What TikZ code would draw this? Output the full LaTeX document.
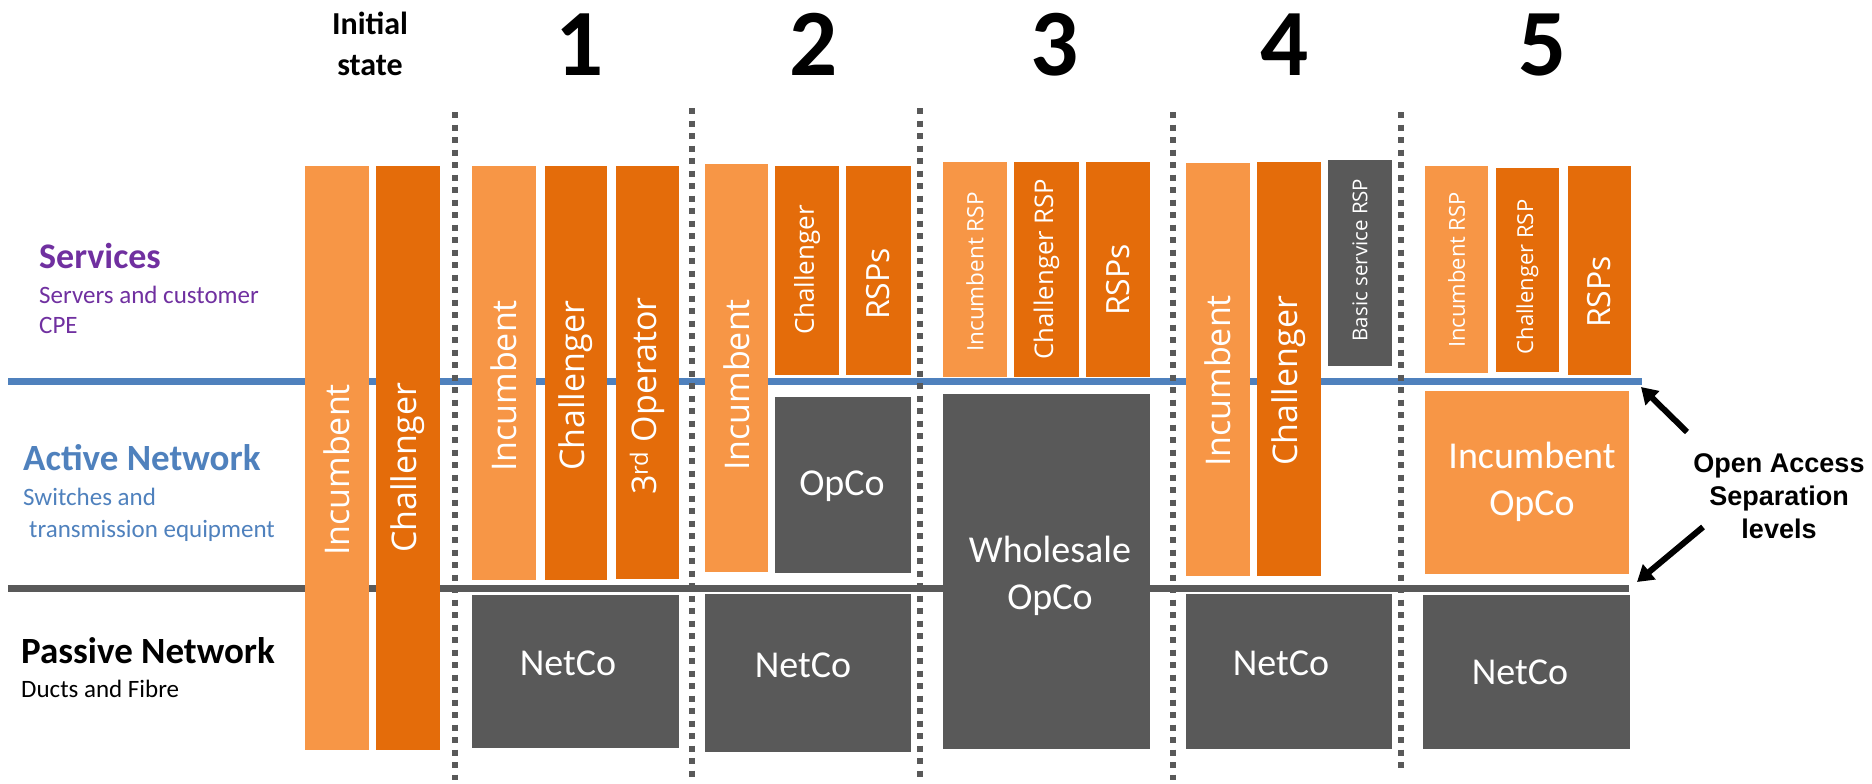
\documentclass[tikz,border=0pt]{standalone}
\usepackage{fontspec}
\setmainfont{Carlito}
\newfontfamily\osans{Open Sans}
\newfontfamily\arialf{Liberation Sans}
\usetikzlibrary{arrows.meta}
\definecolor{lor}{HTML}{F79646}
\definecolor{dor}{HTML}{E46C0A}
\definecolor{dgr}{HTML}{595959}
\definecolor{bline}{HTML}{4F81BD}
\definecolor{purp}{HTML}{7030A0}
\definecolor{ablue}{HTML}{4F81BD}
\newcommand\fsz[2]{\fontsize{#1}{#2}\selectfont}
\newcommand\mkbox[6]{%
  \pgfmathsetmacro\mybw{#4-#2}\pgfmathsetmacro\mybh{#5-#3}%
  \pgfmathsetmacro\mycx{(#2+#4)/2}\pgfmathsetmacro\mycy{(#3+#5)/2}%
  \node[boxst,fill=#6,minimum width=\mybw pt,minimum height=\mybh pt] (#1) at (\mycx,\mycy) {};}
\begin{document}
\begin{tikzpicture}[x=1pt,y=-1pt,
  boxst/.style={rectangle,inner sep=0pt,outer sep=0pt,draw=none},
  vtext/.style={rotate=90,text=white,inner sep=0pt},
  htext/.style={text=white,inner sep=0pt,align=center,font={\fsz{38}{47}}},
  lefttitle/.style={anchor=base west,inner sep=0pt,font={\bfseries\fsz{37}{44}}},
  leftsub/.style={anchor=base west,inner sep=0pt,font={\fsz{25}{30}}},
  stagenum/.style={anchor=base,inner sep=0pt,font={\bfseries\fsz{95}{100}}},
  sepline/.style={dgr,line width=6pt,dash pattern=on 6pt off 6.5pt},
  bigarrow/.style={line width=6pt,-{Triangle[length=16pt,width=19pt]}}]
\useasboundingbox (0,0) rectangle (1872,784);
% level lines
\coordinate (bl0) at (8,381.5); \coordinate (bl1) at (1642,381.5);
\draw[bline,line width=6.5pt] (bl0) -- (bl1);
\coordinate (gl0) at (8,588); \coordinate (gl1) at (1629,588);
\draw[dgr,line width=7pt] (gl0) -- (gl1);
% boxes
\mkbox{i0}{305}{166}{369}{750}{lor}
\mkbox{c0}{376}{166}{440}{750}{dor}
\mkbox{i1}{472}{166}{536}{580}{lor}
\mkbox{c1}{545}{166}{607}{580}{dor}
\mkbox{o1}{616}{166}{679}{579}{dor}
\mkbox{n1}{472}{595}{679}{748}{dgr}
\mkbox{i2}{705}{164}{768}{572}{lor}
\mkbox{c2}{775}{166}{839}{375}{dor}
\mkbox{r2}{846}{166}{911}{375}{dor}
\mkbox{op2}{775}{397}{911}{573}{dgr}
\mkbox{n2}{705}{594}{911}{752}{dgr}
\mkbox{i3}{943}{162}{1007}{377}{lor}
\mkbox{c3}{1014}{162}{1079}{377}{dor}
\mkbox{r3}{1086}{162}{1150}{377}{dor}
\mkbox{w3}{943}{394}{1150}{749}{dgr}
\mkbox{i4}{1186}{163}{1250}{576}{lor}
\mkbox{c4}{1257}{162}{1321}{576}{dor}
\mkbox{b4}{1328}{160}{1392}{366}{dgr}
\mkbox{n4}{1186}{594}{1392}{749}{dgr}
\mkbox{i5}{1425}{166}{1488}{373}{lor}
\mkbox{c5}{1496}{168}{1559}{372}{dor}
\mkbox{r5}{1568}{166}{1631}{375}{dor}
\mkbox{io5}{1425}{391}{1629}{574}{lor}
\mkbox{n5}{1423}{595}{1630}{749}{dgr}
% vertical texts
\node[vtext,font={\osans\fsz{34}{40}}] (ti0) at (337,470) {Incumbent};
\node[vtext,font={\osans\fsz{34}{40}}] (tc0) at (408,468) {Challenger};
\node[vtext,font={\osans\fsz{34}{40}}] (ti1) at (504,386) {Incumbent};
\node[vtext,font={\osans\fsz{34}{40}}] (tc1) at (576,386) {Challenger};
\node[vtext,font={\osans\fsz{34}{40}}] (to1) at (647.5,396) {3\textsuperscript{rd} Operator};
\node[vtext,font={\osans\fsz{34}{40}}] (ti2) at (736.5,385) {Incumbent};
\node[vtext,font={\osans\fsz{26}{30}}] (tc2) at (807,270) {Challenger};
\node[vtext,font={\osans\fsz{32}{38}}] (tr2) at (878.5,284) {RSPs};
\node[vtext,font={\osans\fsz{22.5}{27}}] (ti3) at (975,272) {Incumbent RSP};
\node[vtext,font={\osans\fsz{25.7}{30}}] (tc3) at (1046.5,269) {Challenger RSP};
\node[vtext,font={\osans\fsz{32}{38}}] (tr3) at (1118,280) {RSPs};
\node[vtext,font={\osans\fsz{34}{40}}] (ti4) at (1218,381) {Incumbent};
\node[vtext,font={\osans\fsz{34}{40}}] (tc4) at (1289,381) {Challenger};
\node[vtext,font={\osans\fsz{20.5}{25}}] (tb4) at (1360,260) {Basic service RSP};
\node[vtext,font={\osans\fsz{22}{26}}] (ti5) at (1456.5,270) {Incumbent RSP};
\node[vtext,font={\osans\fsz{22}{26}}] (tc5) at (1527.5,277) {Challenger RSP};
\node[vtext,font={\osans\fsz{32}{38}}] (tr5) at (1599.5,292) {RSPs};
% horizontal texts in boxes
\node[htext] (tn1) at (568,663) {NetCo};
\node[htext] (top2) at (842,486) {OpCo};
\node[htext] (tn2) at (803,665) {NetCo};
\node[htext] (tw3) at (1050,576) {Wholesale\\OpCo};
\node[htext] (tn4) at (1281,663) {NetCo};
\node[htext] (tio5) at (1532,482) {Incumbent\\OpCo};
\node[htext] (tn5) at (1520,672) {NetCo};
% left labels
\node[lefttitle,text=purp,font={\bfseries\fsz{36}{43}}] (svc) at (39,268) {Services};
\node[leftsub,text=purp] (svc1) at (39,303) {Servers and customer};
\node[leftsub,text=purp] (svc2) at (39,333) {CPE};
\node[lefttitle,text=ablue] (act) at (23,470) {Active Network};
\node[leftsub,text=ablue] (act1) at (23,505) {Switches and};
\node[leftsub,text=ablue] (act2) at (29,537) {transmission equipment};
\node[lefttitle] (pas) at (21,663) {Passive Network};
\node[leftsub] (pas1) at (21,697) {Ducts and Fibre};
% headings
\node[inner sep=0pt,align=center,font={\bfseries\fsz{32}{41}}] (h0) at (370,44) {Initial\\state};
\node[stagenum] (h1) at (580,75) {1};
\node[stagenum] (h2) at (814,75) {2};
\node[stagenum] (h3) at (1055,75) {3};
\node[stagenum] (h4) at (1285,75) {4};
\node[stagenum] (h5) at (1543,75) {5};
% separators
\foreach \nm/\xx/\ya/\yb in {d1/455/112/780, d2/692/108/780, d3/920/108/780, d4/1173/112/780, d5/1401/112/770}{
  \coordinate (\nm t) at (\xx,\ya);
  \coordinate (\nm b) at (\xx,\yb);
  \draw[sepline] (\nm t) -- (\nm b);
}
% note and arrows
\node[inner sep=0pt,align=center,font={\arialf\bfseries\fsz{27}{33}}] (oa) at (1779,496) {Open Access\\Separation\\levels};
\coordinate (a1s) at (1687,432); \coordinate (a1e) at (1641,387);
\coordinate (a2s) at (1703,527); \coordinate (a2e) at (1637,582);
\draw[bigarrow] (a1s) -- (a1e);
\draw[bigarrow] (a2s) -- (a2e);
\end{tikzpicture}
\end{document}
